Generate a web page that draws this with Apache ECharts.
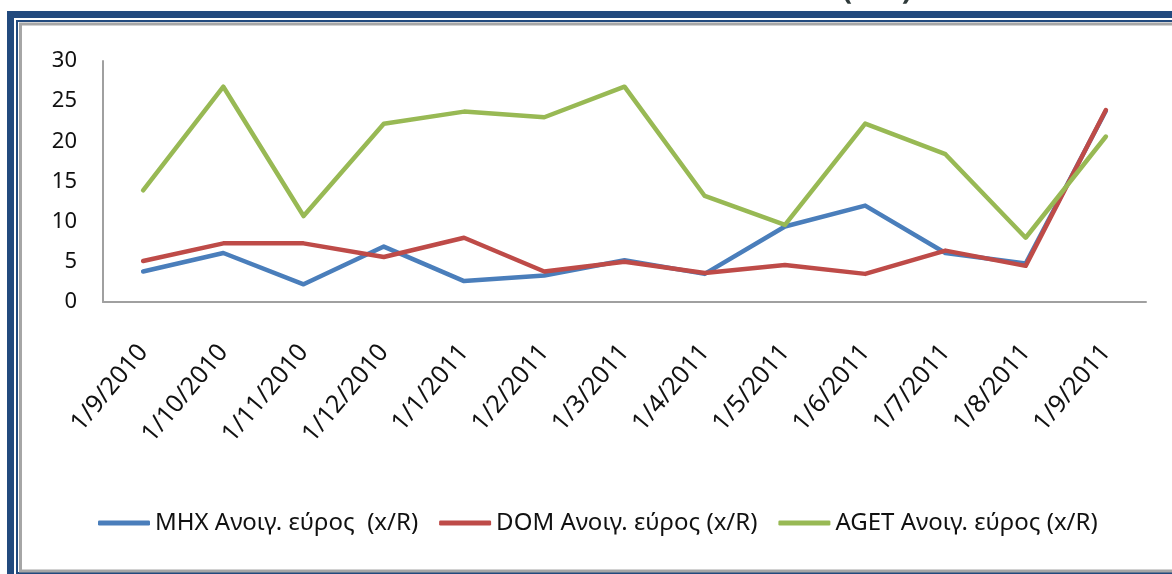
<!DOCTYPE html>
<html>
<head>
<meta charset="utf-8">
<script src="https://cdn.jsdelivr.net/npm/echarts@6/dist/echarts.min.js"></script>
<style>
  html, body { margin: 0; padding: 0; background: #fff; }
  #chart { width: 1172px; height: 574px; }
</style>
</head>
<body>
<div id="chart"></div>
<script>
// dates (x axis)
const categories = [
  '1/9/2010', '1/10/2010', '1/11/2010', '1/12/2010', '1/1/2011', '1/2/2011', '1/3/2011',
  '1/4/2011', '1/5/2011', '1/6/2011', '1/7/2011', '1/8/2011', '1/9/2011',
];
const seriesNames = ['MHX Ανοιγ. εύρος  (x/R)', 'DOM Ανοιγ. εύρος (x/R)', 'AGET Ανοιγ. εύρος (x/R)'];
const mhxValues = [3.8, 6.1, 2.2, 6.9, 2.6, 3.3, 5.2, 3.5, 9.4, 12.0, 6.1, 4.8, 23.8];
const domValues = [5.1, 7.3, 7.3, 5.6, 8.0, 3.8, 5.0, 3.6, 4.6, 3.5, 6.4, 4.5, 23.9];
const agetValues = [13.9, 26.8, 10.7, 22.2, 23.7, 23.0, 26.8, 13.2, 9.6, 22.2, 18.4, 8.0, 20.6];
const yTicks = [0, 5, 10, 15, 20, 25, 30];

const colors = ['#4a7ebb', '#be4b48', '#98b954'];
const font = '"Noto Sans", sans-serif';

const chart = echarts.init(document.getElementById('chart'));

chart.setOption({
  animation: false,
  title: {
    text: '(x/R)',
    left: 872,
    top: -30,
    textAlign: 'center',
    textStyle: { fontFamily: font, fontSize: 30, fontWeight: 'bold', color: '#2e3a3a' },
  },
  // frame round the chart
  graphic: [
    {
      type: 'rect',
      shape: { x: 10.5, y: 14.5, width: 1220, height: 620 },
      style: { fill: 'none', stroke: '#224a7e', lineWidth: 7 },
    },
    {
      type: 'rect',
      shape: { x: 17, y: 21, width: 1200, height: 552 },
      style: { fill: 'none', stroke: '#224a7e', lineWidth: 2 },
    },
    {
      type: 'rect',
      shape: { x: 20.5, y: 24, width: 1200, height: 547 },
      style: { fill: 'none', stroke: '#a6a6a6', lineWidth: 3 },
    },
  ],
  grid: {
    left: 103,
    right: 26,
    top: 61,
    bottom: 272,
  },
  legend: {
    left: 93,
    top: 506,
    itemWidth: 52,
    itemHeight: 5,
    itemGap: 21,
    icon: 'roundRect',
    textStyle: { fontFamily: font, fontSize: 24, color: '#111' },
    data: seriesNames,
  },
  xAxis: {
    type: 'category',
    data: categories,
    boundaryGap: true,
    axisLine: { lineStyle: { color: '#a0a0a0', width: 2 } },
    axisTick: { show: false },
    axisLabel: {
      rotate: 50,
      margin: 46,
      interval: 0,
      fontFamily: font,
      fontSize: 25,
      color: '#111',
    },
  },
  yAxis: {
    type: 'value',
    min: yTicks[0],
    max: yTicks[yTicks.length - 1],
    interval: yTicks[1] - yTicks[0],
    axisLine: { show: true, lineStyle: { color: '#a0a0a0', width: 2 } },
    axisTick: { show: false },
    splitLine: { show: false },
    axisLabel: { margin: 26, fontFamily: font, fontSize: 22, color: '#111' },
  },
  series: [mhxValues, domValues, agetValues].map((data, i) => ({
    name: seriesNames[i],
    type: 'line',
    data: data,
    symbol: 'none',
    color: colors[i],
    lineStyle: { color: colors[i], width: 4.5, cap: 'round', join: 'round' },
  })),
});
</script>
</body>
</html>
